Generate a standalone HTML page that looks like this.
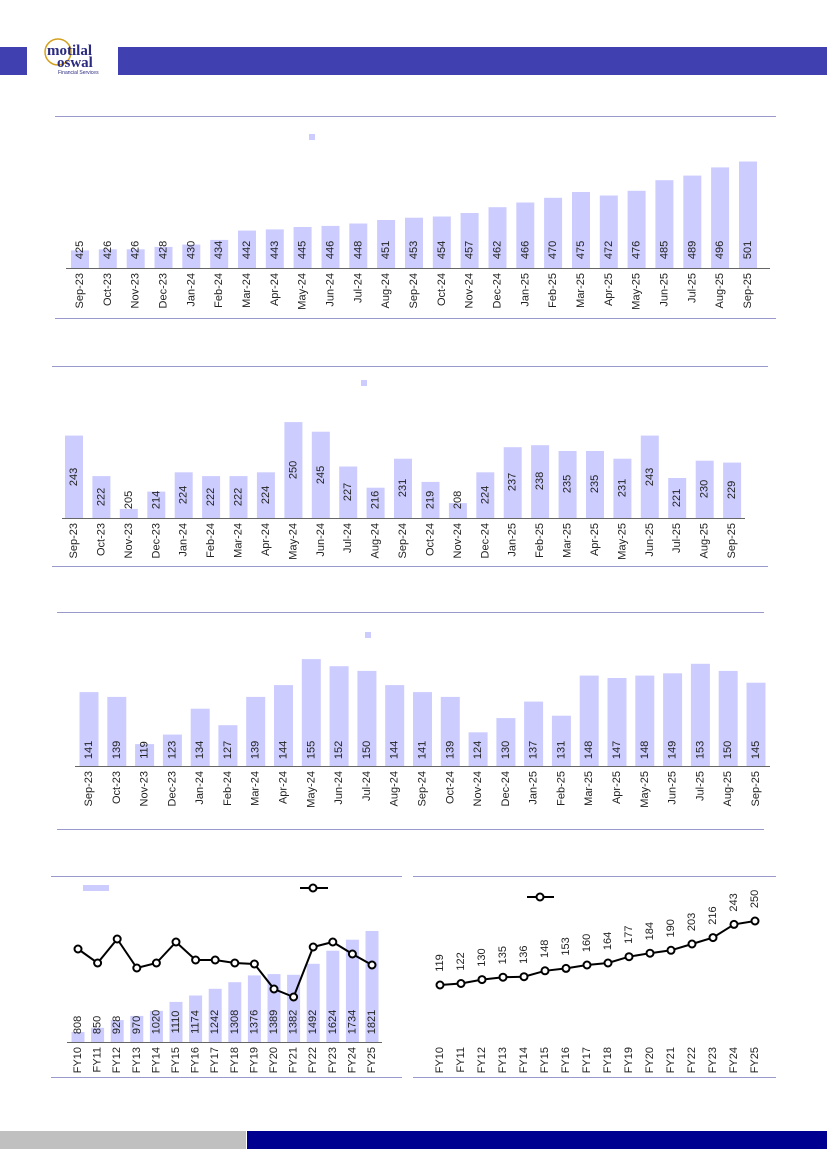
<!DOCTYPE html>
<html><head><meta charset="utf-8"><style>
html,body{margin:0;padding:0;background:#fff}
svg{display:block;font-family:"Liberation Sans",sans-serif}
.m{font-size:11px;fill:#222}
.v{font-size:11px;fill:#222}
</style></head><body>
<svg width="827" height="1169" viewBox="0 0 827 1169" xmlns="http://www.w3.org/2000/svg">
<!-- header -->
<rect x="0" y="47" width="27" height="28" fill="#4040b0"/>
<rect x="118" y="47" width="709" height="28" fill="#4040b0"/>
<circle cx="58" cy="52" r="13" fill="none" stroke="#d4a020" stroke-width="1.5"/>
<text x="47" y="55" font-family="Liberation Serif" font-size="15" font-weight="bold" fill="#2a2a80">motilal</text>
<text x="57" y="67" font-family="Liberation Serif" font-size="15" font-weight="bold" fill="#2a2a80">oswal</text>
<text x="58" y="74" font-size="5" fill="#2a2a80">Financial Services</text>
<!-- footer -->
<rect x="0" y="1131" width="246" height="18" fill="#c0c0c0"/>
<rect x="247" y="1131" width="580" height="18" fill="#000090"/>

<!-- Chart 1 -->
<line x1="55" y1="116.5" x2="776" y2="116.5" stroke="#9999cc"/>
<line x1="55" y1="318.5" x2="776" y2="318.5" stroke="#9999cc"/>
<rect x="309" y="134" width="6" height="6" fill="#ccccff"/>
<g fill="#ccccff">
<rect x="71" y="250.4" width="18" height="17.6"/><rect x="98.8" y="249.3" width="18" height="18.7"/><rect x="126.7" y="249.3" width="18" height="18.7"/><rect x="154.5" y="246.9" width="18" height="21.1"/><rect x="182.3" y="244.6" width="18" height="23.4"/><rect x="210.2" y="239.9" width="18" height="28.1"/><rect x="238" y="230.6" width="18" height="37.4"/><rect x="265.8" y="229.4" width="18" height="38.6"/><rect x="293.6" y="227" width="18" height="41"/><rect x="321.5" y="225.9" width="18" height="42.1"/><rect x="349.3" y="223.5" width="18" height="44.5"/><rect x="377.1" y="220" width="18" height="48"/><rect x="405" y="217.7" width="18" height="50.3"/><rect x="432.8" y="216.5" width="18" height="51.5"/><rect x="460.6" y="213" width="18" height="55"/><rect x="488.5" y="207.2" width="18" height="60.8"/><rect x="516.3" y="202.5" width="18" height="65.5"/><rect x="544.1" y="197.8" width="18" height="70.2"/><rect x="572" y="192" width="18" height="76"/><rect x="599.8" y="195.5" width="18" height="72.5"/><rect x="627.6" y="190.8" width="18" height="77.2"/><rect x="655.4" y="180.2" width="18" height="87.8"/><rect x="683.3" y="175.6" width="18" height="92.4"/><rect x="711.1" y="167.4" width="18" height="100.6"/><rect x="739" y="161.5" width="18" height="106.5"/>
</g>
<line x1="66" y1="268.5" x2="770" y2="268.5" stroke="#666"/>
<g class="v" text-anchor="middle" dominant-baseline="central">
<text transform="translate(80,250) rotate(-90)">425</text><text transform="translate(107.8,250) rotate(-90)">426</text><text transform="translate(135.7,250) rotate(-90)">426</text><text transform="translate(163.5,250) rotate(-90)">428</text><text transform="translate(191.3,250) rotate(-90)">430</text><text transform="translate(219.2,250) rotate(-90)">434</text><text transform="translate(247,250) rotate(-90)">442</text><text transform="translate(274.8,250) rotate(-90)">443</text><text transform="translate(302.6,250) rotate(-90)">445</text><text transform="translate(330.5,250) rotate(-90)">446</text><text transform="translate(358.3,250) rotate(-90)">448</text><text transform="translate(386.1,250) rotate(-90)">451</text><text transform="translate(414,250) rotate(-90)">453</text><text transform="translate(441.8,250) rotate(-90)">454</text><text transform="translate(469.6,250) rotate(-90)">457</text><text transform="translate(497.5,250) rotate(-90)">462</text><text transform="translate(525.3,250) rotate(-90)">466</text><text transform="translate(553.1,250) rotate(-90)">470</text><text transform="translate(581,250) rotate(-90)">475</text><text transform="translate(608.8,250) rotate(-90)">472</text><text transform="translate(636.6,250) rotate(-90)">476</text><text transform="translate(664.4,250) rotate(-90)">485</text><text transform="translate(692.3,250) rotate(-90)">489</text><text transform="translate(720.1,250) rotate(-90)">496</text><text transform="translate(748,250) rotate(-90)">501</text>
</g>
<g class="m" text-anchor="end" dominant-baseline="central">
<text transform="translate(80,273) rotate(-90)">Sep-23</text><text transform="translate(107.8,273) rotate(-90)">Oct-23</text><text transform="translate(135.7,273) rotate(-90)">Nov-23</text><text transform="translate(163.5,273) rotate(-90)">Dec-23</text><text transform="translate(191.3,273) rotate(-90)">Jan-24</text><text transform="translate(219.2,273) rotate(-90)">Feb-24</text><text transform="translate(247,273) rotate(-90)">Mar-24</text><text transform="translate(274.8,273) rotate(-90)">Apr-24</text><text transform="translate(302.6,273) rotate(-90)">May-24</text><text transform="translate(330.5,273) rotate(-90)">Jun-24</text><text transform="translate(358.3,273) rotate(-90)">Jul-24</text><text transform="translate(386.1,273) rotate(-90)">Aug-24</text><text transform="translate(414,273) rotate(-90)">Sep-24</text><text transform="translate(441.8,273) rotate(-90)">Oct-24</text><text transform="translate(469.6,273) rotate(-90)">Nov-24</text><text transform="translate(497.5,273) rotate(-90)">Dec-24</text><text transform="translate(525.3,273) rotate(-90)">Jan-25</text><text transform="translate(553.1,273) rotate(-90)">Feb-25</text><text transform="translate(581,273) rotate(-90)">Mar-25</text><text transform="translate(608.8,273) rotate(-90)">Apr-25</text><text transform="translate(636.6,273) rotate(-90)">May-25</text><text transform="translate(664.4,273) rotate(-90)">Jun-25</text><text transform="translate(692.3,273) rotate(-90)">Jul-25</text><text transform="translate(720.1,273) rotate(-90)">Aug-25</text><text transform="translate(748,273) rotate(-90)">Sep-25</text>
</g>

<!-- Chart 2 -->
<line x1="52" y1="366.5" x2="768" y2="366.5" stroke="#9999cc"/>
<line x1="52" y1="566.5" x2="768" y2="566.5" stroke="#9999cc"/>
<rect x="361" y="380" width="6" height="6" fill="#ccccff"/>
<g fill="#ccccff">
<rect x="65" y="435.6" width="18" height="82.4"/><rect x="92.4" y="476.1" width="18" height="41.9"/><rect x="119.8" y="508.9" width="18" height="9.1"/><rect x="147.3" y="491.6" width="18" height="26.4"/><rect x="174.7" y="472.3" width="18" height="45.7"/><rect x="202.1" y="476.1" width="18" height="41.9"/><rect x="229.5" y="476.1" width="18" height="41.9"/><rect x="256.9" y="472.3" width="18" height="45.7"/><rect x="284.4" y="422.1" width="18" height="95.9"/><rect x="311.8" y="431.7" width="18" height="86.3"/><rect x="339.2" y="466.5" width="18" height="51.5"/><rect x="366.6" y="487.7" width="18" height="30.3"/><rect x="394" y="458.7" width="18" height="59.3"/><rect x="421.5" y="481.9" width="18" height="36.1"/><rect x="448.9" y="503.1" width="18" height="14.9"/><rect x="476.3" y="472.3" width="18" height="45.7"/><rect x="503.7" y="447.2" width="18" height="70.8"/><rect x="531.1" y="445.2" width="18" height="72.8"/><rect x="558.6" y="451" width="18" height="67"/><rect x="586" y="451" width="18" height="67"/><rect x="613.4" y="458.7" width="18" height="59.3"/><rect x="640.8" y="435.6" width="18" height="82.4"/><rect x="668.2" y="478" width="18" height="40"/><rect x="695.7" y="460.7" width="18" height="57.3"/><rect x="723.1" y="462.6" width="18" height="55.4"/>
</g>
<line x1="62" y1="518.5" x2="745" y2="518.5" stroke="#666"/>
<g class="v" text-anchor="middle" dominant-baseline="central">
<text transform="translate(74,477) rotate(-90)">243</text><text transform="translate(101.4,497) rotate(-90)">222</text><text transform="translate(128.8,500) rotate(-90)">205</text><text transform="translate(156.3,500) rotate(-90)">214</text><text transform="translate(183.7,495) rotate(-90)">224</text><text transform="translate(211.1,497) rotate(-90)">222</text><text transform="translate(238.5,497) rotate(-90)">222</text><text transform="translate(265.9,495) rotate(-90)">224</text><text transform="translate(293.4,470) rotate(-90)">250</text><text transform="translate(320.8,475) rotate(-90)">245</text><text transform="translate(348.2,492) rotate(-90)">227</text><text transform="translate(375.6,500) rotate(-90)">216</text><text transform="translate(403,488) rotate(-90)">231</text><text transform="translate(430.5,500) rotate(-90)">219</text><text transform="translate(457.9,500) rotate(-90)">208</text><text transform="translate(485.3,495) rotate(-90)">224</text><text transform="translate(512.7,482) rotate(-90)">237</text><text transform="translate(540.1,481) rotate(-90)">238</text><text transform="translate(567.6,484) rotate(-90)">235</text><text transform="translate(595,484) rotate(-90)">235</text><text transform="translate(622.4,488) rotate(-90)">231</text><text transform="translate(649.8,477) rotate(-90)">243</text><text transform="translate(677.2,498) rotate(-90)">221</text><text transform="translate(704.7,489) rotate(-90)">230</text><text transform="translate(732.1,490) rotate(-90)">229</text>
</g>
<g class="m" text-anchor="end" dominant-baseline="central">
<text transform="translate(74,523) rotate(-90)">Sep-23</text><text transform="translate(101.4,523) rotate(-90)">Oct-23</text><text transform="translate(128.8,523) rotate(-90)">Nov-23</text><text transform="translate(156.3,523) rotate(-90)">Dec-23</text><text transform="translate(183.7,523) rotate(-90)">Jan-24</text><text transform="translate(211.1,523) rotate(-90)">Feb-24</text><text transform="translate(238.5,523) rotate(-90)">Mar-24</text><text transform="translate(265.9,523) rotate(-90)">Apr-24</text><text transform="translate(293.4,523) rotate(-90)">May-24</text><text transform="translate(320.8,523) rotate(-90)">Jun-24</text><text transform="translate(348.2,523) rotate(-90)">Jul-24</text><text transform="translate(375.6,523) rotate(-90)">Aug-24</text><text transform="translate(403,523) rotate(-90)">Sep-24</text><text transform="translate(430.5,523) rotate(-90)">Oct-24</text><text transform="translate(457.9,523) rotate(-90)">Nov-24</text><text transform="translate(485.3,523) rotate(-90)">Dec-24</text><text transform="translate(512.7,523) rotate(-90)">Jan-25</text><text transform="translate(540.1,523) rotate(-90)">Feb-25</text><text transform="translate(567.6,523) rotate(-90)">Mar-25</text><text transform="translate(595,523) rotate(-90)">Apr-25</text><text transform="translate(622.4,523) rotate(-90)">May-25</text><text transform="translate(649.8,523) rotate(-90)">Jun-25</text><text transform="translate(677.2,523) rotate(-90)">Jul-25</text><text transform="translate(704.7,523) rotate(-90)">Aug-25</text><text transform="translate(732.1,523) rotate(-90)">Sep-25</text>
</g>

<!-- Chart 3 -->
<line x1="57" y1="612.5" x2="764" y2="612.5" stroke="#9999cc"/>
<line x1="57" y1="829.5" x2="764" y2="829.5" stroke="#9999cc"/>
<rect x="365" y="632" width="6" height="6" fill="#ccccff"/>
<g fill="#ccccff">
<rect x="79.5" y="692.1" width="19" height="73.9"/><rect x="107.3" y="696.9" width="19" height="69.1"/><rect x="135.1" y="744.1" width="19" height="21.9"/><rect x="162.9" y="734.6" width="19" height="31.4"/><rect x="190.7" y="708.7" width="19" height="57.3"/><rect x="218.4" y="725.2" width="19" height="40.8"/><rect x="246.2" y="696.9" width="19" height="69.1"/><rect x="274" y="685.1" width="19" height="80.9"/><rect x="301.8" y="659.1" width="19" height="106.9"/><rect x="329.6" y="666.2" width="19" height="99.8"/><rect x="357.4" y="670.9" width="19" height="95.1"/><rect x="385.2" y="685.1" width="19" height="80.9"/><rect x="413" y="692.1" width="19" height="73.9"/><rect x="440.8" y="696.9" width="19" height="69.1"/><rect x="468.6" y="732.3" width="19" height="33.7"/><rect x="496.4" y="718.1" width="19" height="47.9"/><rect x="524.1" y="701.6" width="19" height="64.4"/><rect x="551.9" y="715.7" width="19" height="50.3"/><rect x="579.7" y="675.6" width="19" height="90.4"/><rect x="607.5" y="678" width="19" height="88"/><rect x="635.3" y="675.6" width="19" height="90.4"/><rect x="663.1" y="673.3" width="19" height="92.7"/><rect x="690.9" y="663.8" width="19" height="102.2"/><rect x="718.7" y="670.9" width="19" height="95.1"/><rect x="746.5" y="682.7" width="19" height="83.3"/>
</g>
<line x1="75" y1="766.5" x2="770" y2="766.5" stroke="#666"/>
<g class="v" text-anchor="middle" dominant-baseline="central">
<text transform="translate(89,750) rotate(-90)">141</text><text transform="translate(116.8,750) rotate(-90)">139</text><text transform="translate(144.6,750) rotate(-90)">119</text><text transform="translate(172.4,750) rotate(-90)">123</text><text transform="translate(200.2,750) rotate(-90)">134</text><text transform="translate(227.9,750) rotate(-90)">127</text><text transform="translate(255.7,750) rotate(-90)">139</text><text transform="translate(283.5,750) rotate(-90)">144</text><text transform="translate(311.3,750) rotate(-90)">155</text><text transform="translate(339.1,750) rotate(-90)">152</text><text transform="translate(366.9,750) rotate(-90)">150</text><text transform="translate(394.7,750) rotate(-90)">144</text><text transform="translate(422.5,750) rotate(-90)">141</text><text transform="translate(450.3,750) rotate(-90)">139</text><text transform="translate(478.1,750) rotate(-90)">124</text><text transform="translate(505.9,750) rotate(-90)">130</text><text transform="translate(533.6,750) rotate(-90)">137</text><text transform="translate(561.4,750) rotate(-90)">131</text><text transform="translate(589.2,750) rotate(-90)">148</text><text transform="translate(617,750) rotate(-90)">147</text><text transform="translate(644.8,750) rotate(-90)">148</text><text transform="translate(672.6,750) rotate(-90)">149</text><text transform="translate(700.4,750) rotate(-90)">153</text><text transform="translate(728.2,750) rotate(-90)">150</text><text transform="translate(756,750) rotate(-90)">145</text>
</g>
<g class="m" text-anchor="end" dominant-baseline="central">
<text transform="translate(89,771) rotate(-90)">Sep-23</text><text transform="translate(116.8,771) rotate(-90)">Oct-23</text><text transform="translate(144.6,771) rotate(-90)">Nov-23</text><text transform="translate(172.4,771) rotate(-90)">Dec-23</text><text transform="translate(200.2,771) rotate(-90)">Jan-24</text><text transform="translate(227.9,771) rotate(-90)">Feb-24</text><text transform="translate(255.7,771) rotate(-90)">Mar-24</text><text transform="translate(283.5,771) rotate(-90)">Apr-24</text><text transform="translate(311.3,771) rotate(-90)">May-24</text><text transform="translate(339.1,771) rotate(-90)">Jun-24</text><text transform="translate(366.9,771) rotate(-90)">Jul-24</text><text transform="translate(394.7,771) rotate(-90)">Aug-24</text><text transform="translate(422.5,771) rotate(-90)">Sep-24</text><text transform="translate(450.3,771) rotate(-90)">Oct-24</text><text transform="translate(478.1,771) rotate(-90)">Nov-24</text><text transform="translate(505.9,771) rotate(-90)">Dec-24</text><text transform="translate(533.6,771) rotate(-90)">Jan-25</text><text transform="translate(561.4,771) rotate(-90)">Feb-25</text><text transform="translate(589.2,771) rotate(-90)">Mar-25</text><text transform="translate(617,771) rotate(-90)">Apr-25</text><text transform="translate(644.8,771) rotate(-90)">May-25</text><text transform="translate(672.6,771) rotate(-90)">Jun-25</text><text transform="translate(700.4,771) rotate(-90)">Jul-25</text><text transform="translate(728.2,771) rotate(-90)">Aug-25</text><text transform="translate(756,771) rotate(-90)">Sep-25</text>
</g>

<!-- Chart 4 -->
<line x1="51" y1="876.5" x2="402" y2="876.5" stroke="#9999cc"/>
<line x1="51" y1="1077.5" x2="402" y2="1077.5" stroke="#9999cc"/>
<rect x="83" y="885" width="26" height="6" fill="#ccccff"/>
<line x1="300" y1="888" x2="328" y2="888" stroke="#000" stroke-width="2"/>
<circle cx="313" cy="888" r="3.5" fill="#fff" stroke="#000" stroke-width="2"/>
<g fill="#ccccff">
<rect x="71.5" y="1032" width="13" height="10"/><rect x="91.1" y="1027.8" width="13" height="14.2"/><rect x="110.7" y="1020.1" width="13" height="21.9"/><rect x="130.3" y="1015.9" width="13" height="26.1"/><rect x="149.9" y="1010.9" width="13" height="31.1"/><rect x="169.5" y="1001.9" width="13" height="40.1"/><rect x="189.1" y="995.5" width="13" height="46.5"/><rect x="208.7" y="988.8" width="13" height="53.2"/><rect x="228.3" y="982.2" width="13" height="59.8"/><rect x="247.9" y="975.4" width="13" height="66.6"/><rect x="267.5" y="974.1" width="13" height="67.9"/><rect x="287.1" y="974.8" width="13" height="67.2"/><rect x="306.7" y="963.8" width="13" height="78.2"/><rect x="326.3" y="950.7" width="13" height="91.3"/><rect x="345.9" y="939.7" width="13" height="102.3"/><rect x="365.5" y="931" width="13" height="111"/>
</g>
<line x1="67" y1="1042.5" x2="382" y2="1042.5" stroke="#666"/>
<polyline fill="none" stroke="#000" stroke-width="2" points="78,949 97.6,963 117.2,939 136.8,968 156.4,963 176,942 195.6,960 215.2,960 234.8,963 254.4,964 274,989 293.6,997 313.2,947 332.8,942 352.4,954 372,965"/>
<g fill="#fff" stroke="#000" stroke-width="2">
<circle cx="78" cy="949" r="3.5"/><circle cx="97.6" cy="963" r="3.5"/><circle cx="117.2" cy="939" r="3.5"/><circle cx="136.8" cy="968" r="3.5"/><circle cx="156.4" cy="963" r="3.5"/><circle cx="176" cy="942" r="3.5"/><circle cx="195.6" cy="960" r="3.5"/><circle cx="215.2" cy="960" r="3.5"/><circle cx="234.8" cy="963" r="3.5"/><circle cx="254.4" cy="964" r="3.5"/><circle cx="274" cy="989" r="3.5"/><circle cx="293.6" cy="997" r="3.5"/><circle cx="313.2" cy="947" r="3.5"/><circle cx="332.8" cy="942" r="3.5"/><circle cx="352.4" cy="954" r="3.5"/><circle cx="372" cy="965" r="3.5"/>
</g>
<g class="v" text-anchor="middle" dominant-baseline="central">
<text transform="translate(78,1025) rotate(-90)">808</text><text transform="translate(97.6,1025) rotate(-90)">850</text><text transform="translate(117.2,1025) rotate(-90)">928</text><text transform="translate(136.8,1025) rotate(-90)">970</text><text transform="translate(156.4,1022) rotate(-90)">1020</text><text transform="translate(176,1022) rotate(-90)">1110</text><text transform="translate(195.6,1022) rotate(-90)">1174</text><text transform="translate(215.2,1022) rotate(-90)">1242</text><text transform="translate(234.8,1022) rotate(-90)">1308</text><text transform="translate(254.4,1022) rotate(-90)">1376</text><text transform="translate(274,1022) rotate(-90)">1389</text><text transform="translate(293.6,1022) rotate(-90)">1382</text><text transform="translate(313.2,1022) rotate(-90)">1492</text><text transform="translate(332.8,1022) rotate(-90)">1624</text><text transform="translate(352.4,1022) rotate(-90)">1734</text><text transform="translate(372,1022) rotate(-90)">1821</text>
</g>
<g class="m" text-anchor="end" dominant-baseline="central">
<text transform="translate(78,1047) rotate(-90)">FY10</text><text transform="translate(97.6,1047) rotate(-90)">FY11</text><text transform="translate(117.2,1047) rotate(-90)">FY12</text><text transform="translate(136.8,1047) rotate(-90)">FY13</text><text transform="translate(156.4,1047) rotate(-90)">FY14</text><text transform="translate(176,1047) rotate(-90)">FY15</text><text transform="translate(195.6,1047) rotate(-90)">FY16</text><text transform="translate(215.2,1047) rotate(-90)">FY17</text><text transform="translate(234.8,1047) rotate(-90)">FY18</text><text transform="translate(254.4,1047) rotate(-90)">FY19</text><text transform="translate(274,1047) rotate(-90)">FY20</text><text transform="translate(293.6,1047) rotate(-90)">FY21</text><text transform="translate(313.2,1047) rotate(-90)">FY22</text><text transform="translate(332.8,1047) rotate(-90)">FY23</text><text transform="translate(352.4,1047) rotate(-90)">FY24</text><text transform="translate(372,1047) rotate(-90)">FY25</text>
</g>

<!-- Chart 5 -->
<line x1="413" y1="876.5" x2="776" y2="876.5" stroke="#9999cc"/>
<line x1="413" y1="1077.5" x2="776" y2="1077.5" stroke="#9999cc"/>
<line x1="527" y1="897" x2="554" y2="897" stroke="#000" stroke-width="2"/>
<circle cx="540" cy="897" r="3.5" fill="#fff" stroke="#000" stroke-width="2"/>
<polyline fill="none" stroke="#000" stroke-width="2" points="440,985 461,983.5 482,979.6 503,977.2 524,976.7 545,970.8 566,968.4 587,965 608,963 629,956.7 650,953.2 671,950.3 692,944 713,937.6 734,924.4 755,921"/>
<g fill="#fff" stroke="#000" stroke-width="2">
<circle cx="440" cy="985" r="3.5"/><circle cx="461" cy="983.5" r="3.5"/><circle cx="482" cy="979.6" r="3.5"/><circle cx="503" cy="977.2" r="3.5"/><circle cx="524" cy="976.7" r="3.5"/><circle cx="545" cy="970.8" r="3.5"/><circle cx="566" cy="968.4" r="3.5"/><circle cx="587" cy="965" r="3.5"/><circle cx="608" cy="963" r="3.5"/><circle cx="629" cy="956.7" r="3.5"/><circle cx="650" cy="953.2" r="3.5"/><circle cx="671" cy="950.3" r="3.5"/><circle cx="692" cy="944" r="3.5"/><circle cx="713" cy="937.6" r="3.5"/><circle cx="734" cy="924.4" r="3.5"/><circle cx="755" cy="921" r="3.5"/>
</g>
<g class="v" text-anchor="middle" dominant-baseline="central">
<text transform="translate(440,963) rotate(-90)">119</text><text transform="translate(461,961.5) rotate(-90)">122</text><text transform="translate(482,957.6) rotate(-90)">130</text><text transform="translate(503,955.2) rotate(-90)">135</text><text transform="translate(524,954.7) rotate(-90)">136</text><text transform="translate(545,948.8) rotate(-90)">148</text><text transform="translate(566,946.4) rotate(-90)">153</text><text transform="translate(587,943) rotate(-90)">160</text><text transform="translate(608,941) rotate(-90)">164</text><text transform="translate(629,934.7) rotate(-90)">177</text><text transform="translate(650,931.2) rotate(-90)">184</text><text transform="translate(671,928.3) rotate(-90)">190</text><text transform="translate(692,922) rotate(-90)">203</text><text transform="translate(713,915.6) rotate(-90)">216</text><text transform="translate(734,902.4) rotate(-90)">243</text><text transform="translate(755,899) rotate(-90)">250</text>
</g>
<g class="m" text-anchor="end" dominant-baseline="central">
<text transform="translate(440,1047) rotate(-90)">FY10</text><text transform="translate(461,1047) rotate(-90)">FY11</text><text transform="translate(482,1047) rotate(-90)">FY12</text><text transform="translate(503,1047) rotate(-90)">FY13</text><text transform="translate(524,1047) rotate(-90)">FY14</text><text transform="translate(545,1047) rotate(-90)">FY15</text><text transform="translate(566,1047) rotate(-90)">FY16</text><text transform="translate(587,1047) rotate(-90)">FY17</text><text transform="translate(608,1047) rotate(-90)">FY18</text><text transform="translate(629,1047) rotate(-90)">FY19</text><text transform="translate(650,1047) rotate(-90)">FY20</text><text transform="translate(671,1047) rotate(-90)">FY21</text><text transform="translate(692,1047) rotate(-90)">FY22</text><text transform="translate(713,1047) rotate(-90)">FY23</text><text transform="translate(734,1047) rotate(-90)">FY24</text><text transform="translate(755,1047) rotate(-90)">FY25</text>
</g>
</svg>
</body></html>
